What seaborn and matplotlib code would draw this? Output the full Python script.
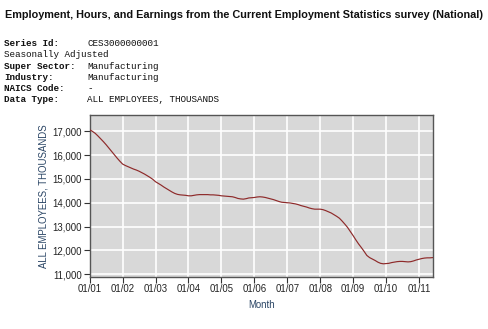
import numpy as np
import pandas as pd
import matplotlib
matplotlib.use("Agg")
import matplotlib.pyplot as plt
import seaborn as sns

# Manufacturing employment, seasonally adjusted, thousands (Jan 2001 - Jun 2011)
emp_2001 = [17060, 16990, 16910, 16800, 16680, 16560, 16430, 16290, 16150, 16010, 15870, 15740]
emp_2002 = [15620, 15560, 15510, 15460, 15410, 15370, 15320, 15260, 15200, 15130, 15060, 14980]
emp_2003 = [14880, 14810, 14740, 14660, 14590, 14520, 14450, 14390, 14350, 14330, 14320, 14310]
emp_2004 = [14290, 14290, 14310, 14330, 14340, 14340, 14340, 14340, 14330, 14330, 14320, 14310]
emp_2005 = [14290, 14280, 14270, 14260, 14250, 14220, 14180, 14160, 14150, 14170, 14200, 14210]
emp_2006 = [14220, 14240, 14250, 14240, 14220, 14190, 14160, 14130, 14090, 14050, 14020, 14010]
emp_2007 = [14000, 13990, 13970, 13950, 13920, 13880, 13850, 13820, 13780, 13750, 13730, 13730]
emp_2008 = [13730, 13710, 13670, 13620, 13570, 13500, 13430, 13350, 13230, 13100, 12960, 12790]
emp_2009 = [12620, 12440, 12270, 12120, 11960, 11790, 11700, 11640, 11580, 11510, 11460, 11440]
emp_2010 = [11450, 11460, 11490, 11510, 11530, 11540, 11540, 11530, 11520, 11530, 11560, 11600]
emp_2011 = [11630, 11660, 11680, 11690, 11690, 11700]

x_tick_labels = ["01/01", "01/02", "01/03", "01/04", "01/05", "01/06",
                 "01/07", "01/08", "01/09", "01/10", "01/11"]
y_ticks = [11000, 12000, 13000, 14000, 15000, 16000, 17000]

values = (emp_2001 + emp_2002 + emp_2003 + emp_2004 + emp_2005 + emp_2006 +
          emp_2007 + emp_2008 + emp_2009 + emp_2010 + emp_2011)
df = pd.DataFrame({"month": np.arange(len(values)), "employees": values})

sns.set_theme(style="white")
plt.rcParams["font.family"] = ["Liberation Sans", "DejaVu Sans"]

fig = plt.figure(figsize=(4.89, 3.29), dpi=100)
fig.patch.set_facecolor("white")
ax = fig.add_axes([0.1834, 0.159, 0.7015, 0.4924])
ax.set_facecolor("#d8d8d8")

sns.lineplot(data=df, x="month", y="employees", ax=ax,
             color="#8e2a2a", linewidth=0.85, zorder=3)

ax.set_xlim(0, len(values) - 1)
ax.set_ylim(10900, 17690)
ax.set_xticks(np.arange(0, 12 * len(x_tick_labels), 12))
ax.set_xticklabels(x_tick_labels)
ax.set_yticks(y_ticks)
ax.set_yticklabels([f"{v:,}" for v in y_ticks])

ax.grid(True, color="white", linewidth=1.2, zorder=1)
ax.set_axisbelow(True)
for side in ["left", "bottom", "top", "right"]:
    ax.spines[side].set_visible(True)
    ax.spines[side].set_color("#555555")
    ax.spines[side].set_linewidth(1.0)

ax.tick_params(axis="both", which="major", direction="out", length=4,
               width=0.8, color="#333333", labelsize=6.9,
               labelcolor="#222222", pad=1.5, left=True, bottom=True)

ax.set_xlabel("Month", fontsize=6.9, color="#2a4565", labelpad=4)
ax.set_ylabel("ALL EMPLOYEES, THOUSANDS", fontsize=6.9, color="#2a4565", labelpad=3)

fig.text(0.0102, 1 - 15 / 329,
         "Employment, Hours, and Earnings from the Current Employment Statistics survey (National)",
         fontsize=7.85, fontweight="bold", color="#111111", va="center", ha="left")

meta_rows = [
    ("Series Id:", "CES3000000001", True),
    ("Seasonally Adjusted", "", False),
    ("Super Sector:", "Manufacturing", True),
    ("Industry:", "Manufacturing", True),
    ("NAICS Code:", "-", True),
    ("Data Type:", "ALL EMPLOYEES, THOUSANDS", True),
]
mono = ["Liberation Mono", "DejaVu Sans Mono"]
y0 = 43.5
for i, (label, value, bold) in enumerate(meta_rows):
    ypx = y0 + i * 11.3
    fig.text(4 / 489, 1 - ypx / 329, label, family=mono, fontsize=6.7,
             fontweight="bold" if bold else "normal", color="#111111",
             va="center", ha="left")
    if value:
        fig.text(87.3 / 489, 1 - ypx / 329, value, family=mono, fontsize=6.7,
                 color="#111111", va="center", ha="left")

fig.savefig("out.png", dpi=100, facecolor="white")
